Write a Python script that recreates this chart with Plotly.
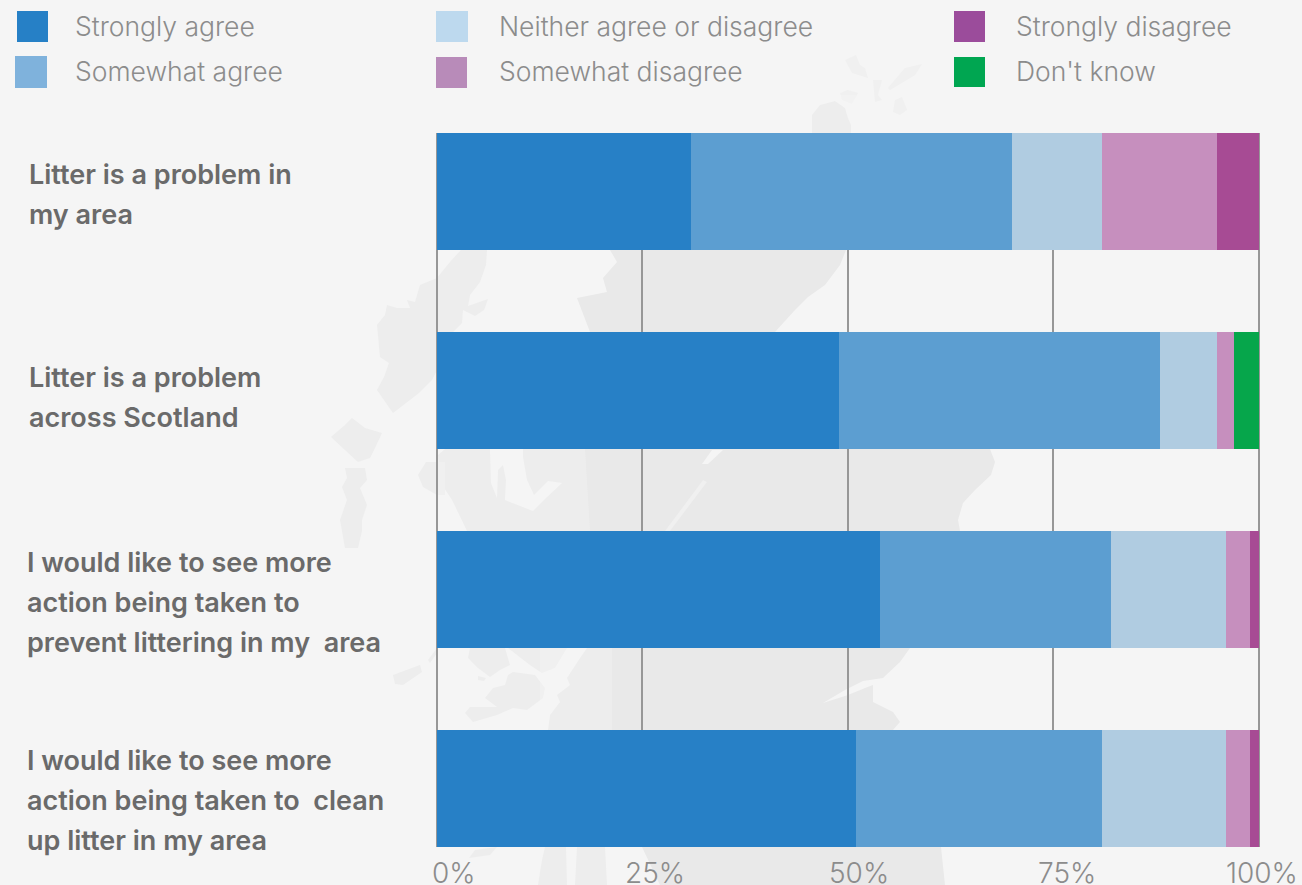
import plotly.graph_objects as go

PAGE_W, PAGE_H = 1302, 885

# Survey results, percentage of respondents
statements = [
    "Litter is a problem in my area",
    "Litter is a problem across Scotland",
    "I would like to see more action being taken to prevent littering in my area",
    "I would like to see more action being taken to clean up litter in my area",
]
statement_lines = [
    ["Litter is a problem in", "my area"],
    ["Litter is a problem", "across Scotland"],
    ["I would like to see more", "action being taken to", "prevent littering in my  area"],
    ["I would like to see more", "action being taken to  clean", "up litter in my area"],
]
responses = ["Strongly agree", "Somewhat agree", "Neither agree or disagree",
             "Somewhat disagree", "Strongly disagree", "Don't know"]
strongly_agree = [31, 49, 54, 51]
somewhat_agree = [39, 39, 28, 30]
neither = [11, 7, 14, 15]
somewhat_disagree = [14, 2, 3, 3]
strongly_disagree = [5, 0, 1, 1]
dont_know = [0, 3, 0, 0]
series_values = [strongly_agree, somewhat_agree, neither,
                 somewhat_disagree, strongly_disagree, dont_know]
tick_values = [0, 25, 50, 75, 100]
tick_labels = ["0%", "25%", "50%", "75%", "100%"]

# Colours
bar_colors = ["#2780C6", "#5C9ED1", "#B0CCE1", "#C68FBE", "#A74B94", "#06A64B"]
key_colors = ["#2680C6", "#7FB2DC", "#BDD9EE", "#B88BB9", "#9B4C9B", "#00A651"]
BACKGROUND = "#F5F5F5"
LAND = "#E9E9E9"
LAND_PALE = "#EDEDED"
LAND_FAINT = "#F0F0F0"
TEXT_LIGHT = "#8C8C8C"
TEXT_BOLD = "#6A6A6A"
FONT = "Inter"

# Pixel placement of the value axis: 0% at x=436.5, 8.22 px per percentage point
ZERO_PX = 436.5
PX_PER_UNIT = 8.22
RANGE_MIN, RANGE_MAX = -1, 101


def px_x(x):
    return x / PAGE_W


def px_y(y):
    return 1 - y / PAGE_H


def polygon(points, color):
    path = "M " + " L ".join(f"{px_x(x):.5f},{px_y(y):.5f}" for x, y in points) + " Z"
    return dict(type="path", xref="paper", yref="paper", path=path, layer="below",
                fillcolor=color, line=dict(width=0))


# Pale outline of Scotland behind the chart, in page pixels
mainland = [
    (812, 133), (812, 115), (820, 105), (835, 101), (845, 108), (848, 118), (851, 125),
    (851, 200), (846, 250), (840, 265), (825, 285), (808, 297), (795, 310), (775, 332),
    (990, 449), (995, 462), (991, 475), (975, 490), (963, 503), (958, 520), (960, 531),
    (910, 648), (900, 662), (883, 678), (863, 681), (845, 690), (823, 703), (848, 695),
    (865, 688), (873, 685), (873, 702), (893, 712), (900, 722), (893, 730), (941, 847),
    (945, 885), (660, 885), (642, 847), (548, 730), (550, 715), (560, 702), (557, 695),
    (570, 685), (567, 678), (580, 658), (587, 648), (467, 531), (452, 500), (440, 482),
    (438, 455), (445, 449), (490, 449), (491, 483), (497, 498), (498, 470), (503, 465),
    (506, 480), (505, 500), (533, 511), (547, 497), (562, 483), (548, 481), (534, 495),
    (527, 480), (523, 457), (523, 449), (590, 332), (577, 298), (607, 292), (603, 278),
    (617, 262), (610, 250),
]
skye_and_harris = [
    (470, 240), (487, 250), (486, 265), (480, 282), (470, 295), (468, 306), (488, 299),
    (484, 310), (475, 316), (463, 310), (462, 323), (453, 332), (445, 345), (437, 370),
    (432, 380), (419, 393), (393, 413), (377, 390), (384, 377), (389, 363), (380, 357),
    (377, 325), (385, 315), (387, 305), (397, 308), (410, 308), (407, 300), (415, 302),
    (420, 285), (437, 278), (450, 262),
]
islands = [
    [(331, 437), (345, 425), (352, 418), (365, 428), (382, 433), (375, 448), (370, 458),
     (358, 462), (345, 450)],
    [(345, 468), (365, 468), (367, 480), (360, 488), (367, 505), (362, 520), (362, 531),
     (358, 548), (345, 548), (340, 520), (347, 500), (342, 487), (347, 478)],
    [(426, 462), (418, 475), (423, 487), (437, 495), (445, 495), (445, 462)],
    [(508, 648), (530, 665), (542, 673), (555, 668), (567, 648)],
    [(470, 648), (468, 658), (478, 668), (490, 677), (500, 670), (510, 665), (505, 648)],
    [(513, 672), (535, 675), (545, 688), (543, 698), (527, 710), (513, 708), (497, 715),
     (473, 722), (465, 713), (470, 707), (497, 707), (485, 698), (493, 688), (505, 685),
     (508, 675)],
    [(478, 676), (486, 678), (484, 681), (478, 680)],
    [(393, 675), (420, 665), (422, 672), (403, 685), (395, 684)],
    [(428, 660), (437, 648), (437, 653), (430, 663)],
    [(469, 858), (475, 850), (497, 847), (490, 855)],
    [(538, 885), (542, 860), (545, 847), (566, 847), (567, 885)],
    [(575, 885), (577, 847), (605, 847), (607, 885)],
]
northern_isles = [
    [(845, 60), (856, 55), (860, 65), (865, 68), (868, 78), (852, 73)],
    [(840, 93), (848, 90), (858, 93), (852, 104), (842, 100)],
    [(873, 80), (882, 80), (878, 95), (882, 100), (875, 102)],
    [(888, 88), (905, 68), (922, 64), (915, 75), (900, 84), (890, 90)],
    [(895, 100), (902, 97), (907, 110), (900, 115), (893, 112)],
]
great_glen_north = [(723, 450), (712, 450), (702, 464), (708, 464)]
great_glen_south = [(703, 480), (665, 531), (670, 531), (707, 482)]

# Broken, mottled coast on the west side reads paler than the interior
west_coast_wash = [(436, 449), (585, 449), (590, 531), (436, 531)]
clyde_coast_wash = [(540, 648), (612, 648), (612, 730), (540, 730)]
caithness_wash = [(805, 95), (856, 95), (856, 133), (805, 133)]
WASH = "rgba(245,245,245,0.35)"

shapes = [polygon(mainland, LAND), polygon(skye_and_harris, LAND_PALE)]
shapes += [polygon(p, LAND_PALE) for p in islands]
shapes += [polygon(p, LAND_FAINT) for p in northern_isles]
shapes += [polygon(great_glen_north, BACKGROUND), polygon(great_glen_south, "#F0F0F0")]
shapes += [polygon(p, WASH) for p in (west_coast_wash, clyde_coast_wash, caithness_wash)]

# Hand-placed response key: squares and their captions
key_boxes = [(17, 11, 48, 42), (15, 56, 47, 88), (436, 11, 468, 42),
             (436, 57, 467, 88), (954, 11, 985, 42), (954, 57, 985, 87)]
key_text_x = [73, 73, 497, 497, 1014, 1014]
key_text_y = [26, 71, 26, 71, 26, 71]
for (x0, y0, x1, y1), color in zip(key_boxes, key_colors):
    shapes.append(dict(type="rect", xref="paper", yref="paper", layer="below",
                       x0=px_x(x0), x1=px_x(x1), y0=px_y(y0), y1=px_y(y1),
                       fillcolor=color, line=dict(width=0)))

annotations = []
for name, x, y in zip(responses, key_text_x, key_text_y):
    annotations.append(dict(text=name, xref="paper", yref="paper", x=px_x(x), y=px_y(y),
                            xanchor="left", yanchor="middle", showarrow=False,
                            font=dict(family=FONT, size=26.5, color=TEXT_LIGHT, weight=300)))

# Statement captions, one annotation per line to hold the wide line pitch
line_x = [27, 27, 24.5, 24.5]
line_y = [[174, 214], [377, 417], [562, 602, 642], [760, 800, 840]]
for lines, x, ys in zip(statement_lines, line_x, line_y):
    for line, y in zip(lines, ys):
        annotations.append(dict(text=line.replace("  ", "\u00a0 "), xref="paper", yref="paper",
                                x=px_x(x), y=px_y(y), xanchor="left", yanchor="middle",
                                showarrow=False,
                                font=dict(family=FONT, size=27, color=TEXT_BOLD, weight=600)))

# Percentage labels sit slightly to the right of their gridlines
tick_shift = [17, 13, 11, 14, 3]
for value, label, shift in zip(tick_values, tick_labels, tick_shift):
    annotations.append(dict(text=label, xref="x", yref="paper", x=value, xshift=shift,
                            y=px_y(873), xanchor="center", yanchor="middle", showarrow=False,
                            font=dict(family=FONT, size=28, color=TEXT_LIGHT, weight=300)))

fig = go.Figure()
for name, values, color in zip(responses, series_values, bar_colors):
    fig.add_trace(go.Bar(y=statements, x=values, name=name, orientation="h",
                         marker=dict(color=color, line=dict(width=0)),
                         hovertemplate="%{y}<br>" + name + ": %{x}%<extra></extra>"))

fig.update_layout(
    width=PAGE_W, height=PAGE_H,
    margin=dict(l=0, r=0, t=0, b=0),
    paper_bgcolor=BACKGROUND, plot_bgcolor="rgba(0,0,0,0)",
    barmode="stack", bargap=0.412, showlegend=False,
    shapes=shapes, annotations=annotations,
    # The range runs a little past 0-100 so the end gridlines are drawn as well
    xaxis=dict(domain=[(ZERO_PX + RANGE_MIN * PX_PER_UNIT) / PAGE_W,
                       (ZERO_PX + RANGE_MAX * PX_PER_UNIT) / PAGE_W],
               range=[RANGE_MIN, RANGE_MAX], tickvals=tick_values,
               showticklabels=False, ticks="", showgrid=True, gridcolor="#979797", gridwidth=1.5,
               zeroline=False, showline=False, fixedrange=True),
    yaxis=dict(domain=[px_y(847), px_y(133)], type="category", categoryarray=statements,
               categoryorder="array", range=[3.294, -0.294], showticklabels=False, ticks="",
               showgrid=False, zeroline=False, showline=False, fixedrange=True),
)

fig.write_html("out.html", config=dict(displayModeBar=False))
